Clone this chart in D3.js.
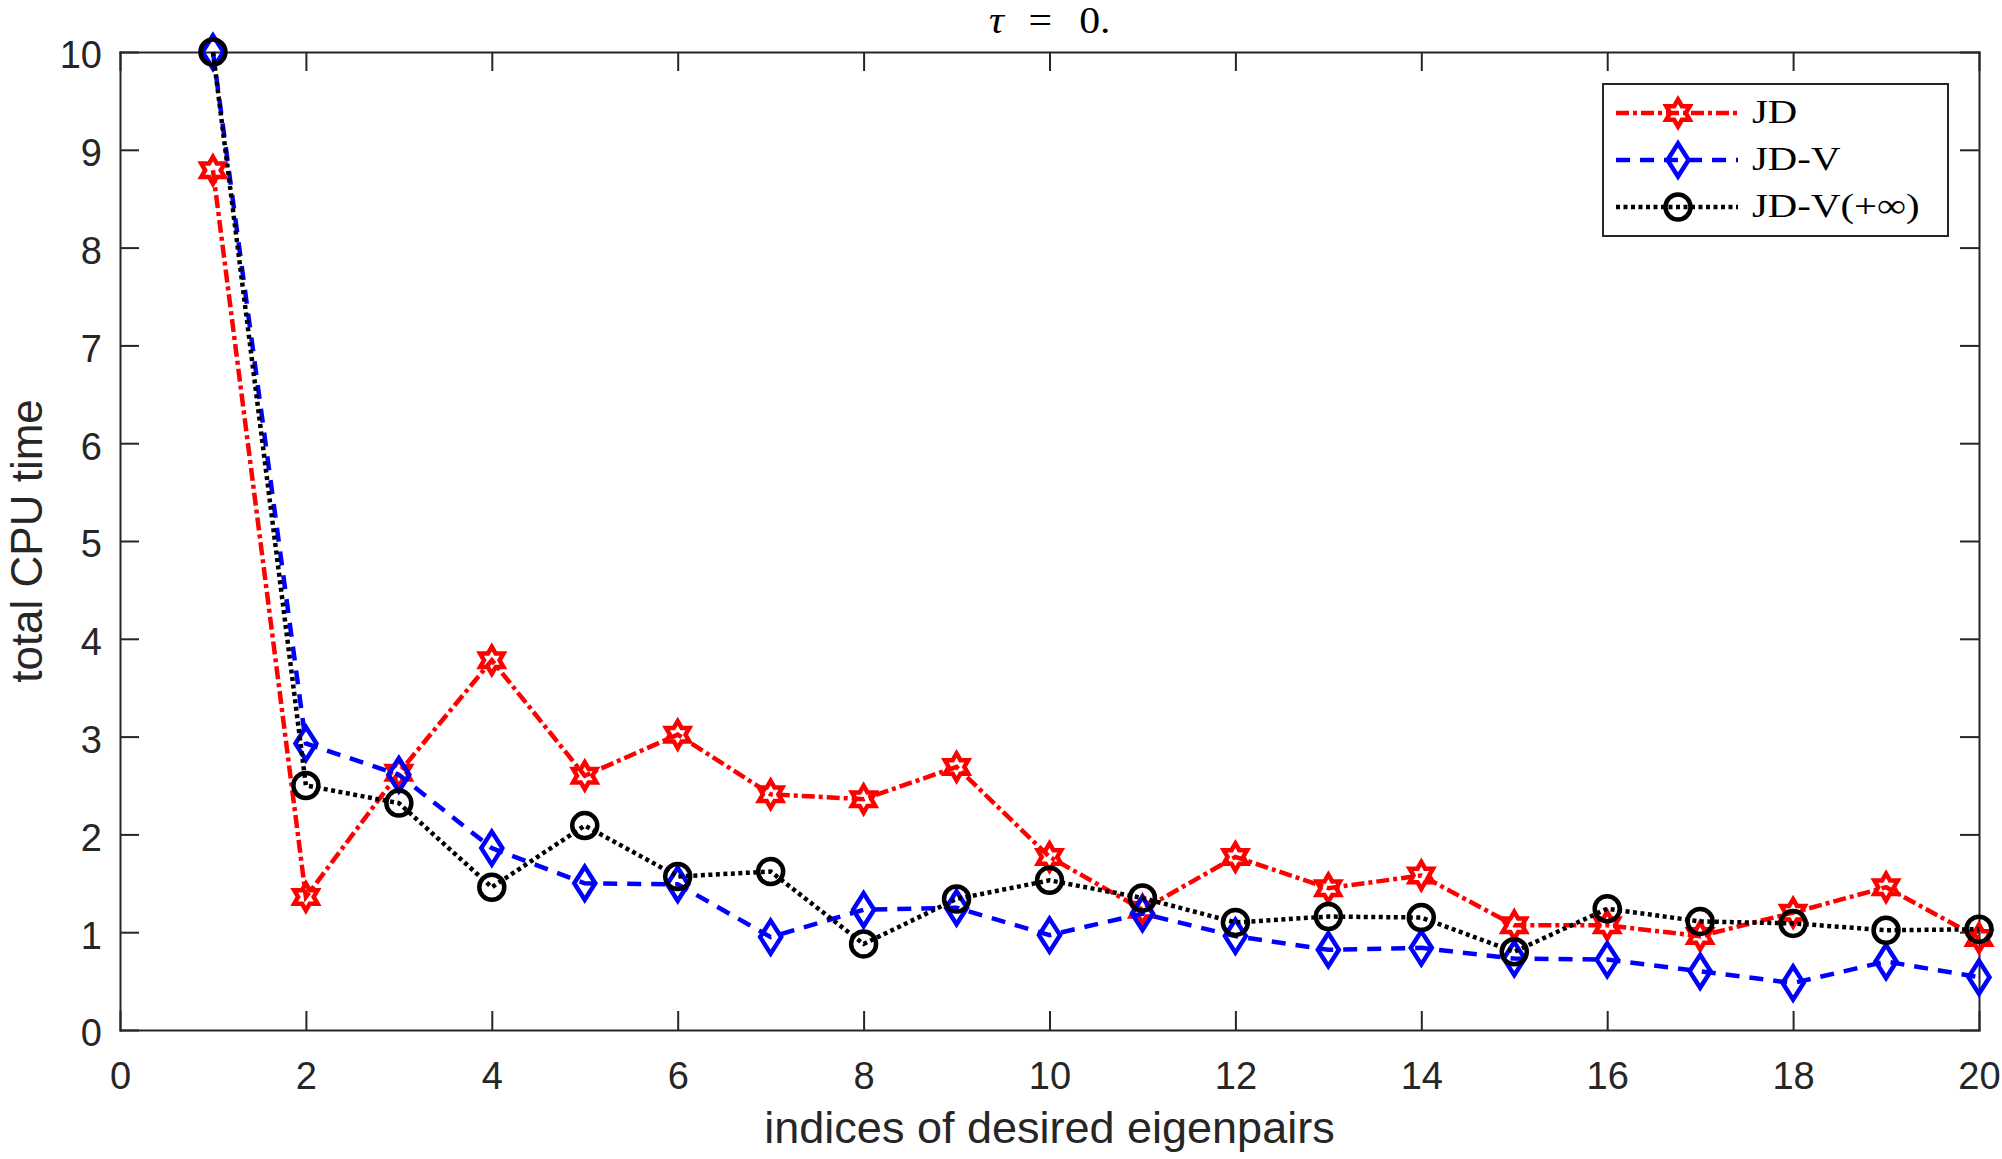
<!DOCTYPE html>
<html lang="en-us">
  <head>
    <meta charset="utf-8">
    <title>total CPU time</title>
    <script src="https://cdn.jsdelivr.net/npm/d3@7/dist/d3.min.js"></script>
    <style>
      body { margin: 0; background: #fff; }
      .axis path, .axis line { stroke: #262626; stroke-width: 2px; }
      .axis text { font-family: "Liberation Sans", Arial, sans-serif; font-size: 38px; fill: #262626; }
    </style>
  </head>
  <body>
    <div id="chart"></div>
    <script>

var indices = d3.range(1, 21);
var jd     = [8.79, 1.36, 2.63, 3.78, 2.60, 3.02, 2.41, 2.36, 2.69, 1.77, 1.23, 1.77, 1.45, 1.58, 1.07, 1.07, 0.96, 1.20, 1.46, 0.94];
var jdv    = [10.0, 2.93, 2.61, 1.86, 1.50, 1.49, 0.95, 1.23, 1.25, 0.97, 1.19, 0.96, 0.82, 0.84, 0.73, 0.72, 0.60, 0.48, 0.70, 0.54];
var jdvInf = [10.0, 2.50, 2.32, 1.46, 2.09, 1.57, 1.62, 0.88, 1.34, 1.53, 1.35, 1.10, 1.16, 1.15, 0.80, 1.24, 1.11, 1.09, 1.02, 1.03];
var xTicks = [0, 2, 4, 6, 8, 10, 12, 14, 16, 18, 20];
var yTicks = [0, 1, 2, 3, 4, 5, 6, 7, 8, 9, 10];
var seriesNames = ["JD", "JD-V", "JD-V(+\u221E)"];

var width = 2002, height = 1159;
var margin = {top: 52, right: 23, bottom: 129, left: 120};

var svg = d3.select("#chart").append("svg")
    .attr("width", width)
    .attr("height", height);

var x = d3.scaleLinear().domain([0, 20]).range([margin.left, width - margin.right]);
var y = d3.scaleLinear().domain([0, 10]).range([height - margin.bottom, margin.top]);

// axes, ticks pointing inward on all four sides
svg.append("g").attr("class", "axis")
    .attr("transform", "translate(0," + y(0) + ")")
    .call(d3.axisBottom(x).tickValues(xTicks).tickSizeInner(-19).tickSizeOuter(0).tickPadding(32));
svg.append("g").attr("class", "axis")
    .attr("transform", "translate(0," + y(10) + ")")
    .call(d3.axisTop(x).tickValues(xTicks).tickSizeInner(-19).tickSizeOuter(0).tickFormat(""));
svg.append("g").attr("class", "axis")
    .attr("transform", "translate(" + x(0) + ",0)")
    .call(d3.axisLeft(y).tickValues(yTicks).tickSizeInner(-19).tickSizeOuter(0).tickPadding(18))
  .selectAll("text").attr("dy", "0.42em");
svg.append("g").attr("class", "axis")
    .attr("transform", "translate(" + x(20) + ",0)")
    .call(d3.axisRight(y).tickValues(yTicks).tickSizeInner(-19).tickSizeOuter(0).tickFormat(""));

svg.selectAll(".axis .domain").attr("stroke-linecap", "square");

// labels
svg.append("text")
    .attr("x", (x(0) + x(20)) / 2)
    .attr("y", 1143)
    .attr("text-anchor", "middle")
    .style("font-family", "'Liberation Sans', Arial, sans-serif")
    .style("font-size", "45px")
    .style("fill", "#262626")
    .text("indices of desired eigenpairs");

svg.append("text")
    .attr("transform", "translate(42," + (y(0) + y(10)) / 2 + ") rotate(-90)")
    .attr("text-anchor", "middle")
    .style("font-family", "'Liberation Sans', Arial, sans-serif")
    .style("font-size", "44px")
    .style("fill", "#262626")
    .text("total CPU time");

// title, set wide like the LaTeX original
var title = svg.append("text")
    .attr("transform", "translate(989,33) scale(1.1,1)")
    .style("font-family", "'Liberation Serif', 'Times New Roman', serif")
    .style("font-size", "38px")
    .style("fill", "#000");
title.append("tspan").attr("x", 0).style("font-style", "italic").text("\u03C4");
title.append("tspan").attr("x", 36).text("=");
title.append("tspan").attr("x", 82).text("0.");

// marker shapes
function hexagram(r) {
  var pts = [];
  for (var k = 0; k < 12; k++) {
    var a = -Math.PI / 2 + k * Math.PI / 6;
    var rr = (k % 2 === 0) ? r : r / Math.sqrt(3);
    pts.push([rr * Math.cos(a), rr * Math.sin(a)]);
  }
  return "M" + pts.map(function(p) { return p[0].toFixed(2) + "," + p[1].toFixed(2); }).join("L") + "Z";
}
function diamond(w, h) {
  return "M0," + (-h) + "L" + w + ",0L0," + h + "L" + (-w) + ",0Z";
}
function circle(r) {
  return "M" + r + ",0A" + r + "," + r + " 0 1,1 " + (-r) + ",0A" + r + "," + r + " 0 1,1 " + r + ",0Z";
}

var series = [
  {name: seriesNames[0], values: jd,     color: "#ff0000", dash: "13,4,4,4", marker: hexagram(13.5)},
  {name: seriesNames[1], values: jdv,    color: "#0000ff", dash: "14,10",    marker: diamond(10.5, 16.5)},
  {name: seriesNames[2], values: jdvInf, color: "#000000", dash: "4,3.5",    marker: circle(12.5)}
];

var line = d3.line()
    .x(function(d, i) { return x(indices[i]); })
    .y(function(d) { return y(d); });

series.forEach(function(s) {
  var g = svg.append("g");
  g.append("path")
      .attr("d", line(s.values))
      .attr("fill", "none")
      .attr("stroke", s.color)
      .attr("stroke-width", 4.5)
      .attr("stroke-dasharray", s.dash);
  g.selectAll(".mk")
      .data(s.values)
      .enter().append("path")
      .attr("class", "mk")
      .attr("d", s.marker)
      .attr("transform", function(d, i) { return "translate(" + x(indices[i]) + "," + y(d) + ")"; })
      .attr("fill", "none")
      .attr("stroke", s.color)
      .attr("stroke-width", 4.5)
      .attr("stroke-linejoin", "miter");
});

// legend
var legend = svg.append("g").attr("transform", "translate(1603,84)");
legend.append("rect")
    .attr("width", 345)
    .attr("height", 152)
    .attr("fill", "#fff")
    .attr("stroke", "#262626")
    .attr("stroke-width", 2);

var item = legend.selectAll(".item")
    .data(series)
    .enter().append("g")
    .attr("class", "item")
    .attr("transform", function(d, i) { return "translate(0," + (29 + i * 47) + ")"; });

item.append("line")
    .attr("x1", 13).attr("x2", 135)
    .attr("stroke", function(d) { return d.color; })
    .attr("stroke-width", 4.5)
    .attr("stroke-dasharray", function(d) { return d.dash; });
item.append("path")
    .attr("d", function(d) { return d.marker; })
    .attr("transform", "translate(75,0)")
    .attr("fill", "none")
    .attr("stroke", function(d) { return d.color; })
    .attr("stroke-width", 4.5);
item.append("text")
    .attr("transform", "translate(149,10) scale(1.2,1)")
    .style("font-family", "'Liberation Serif', 'Times New Roman', serif")
    .style("font-size", "34px")
    .style("fill", "#000")
    .text(function(d) { return d.name; });

    </script>
  </body>
</html>
